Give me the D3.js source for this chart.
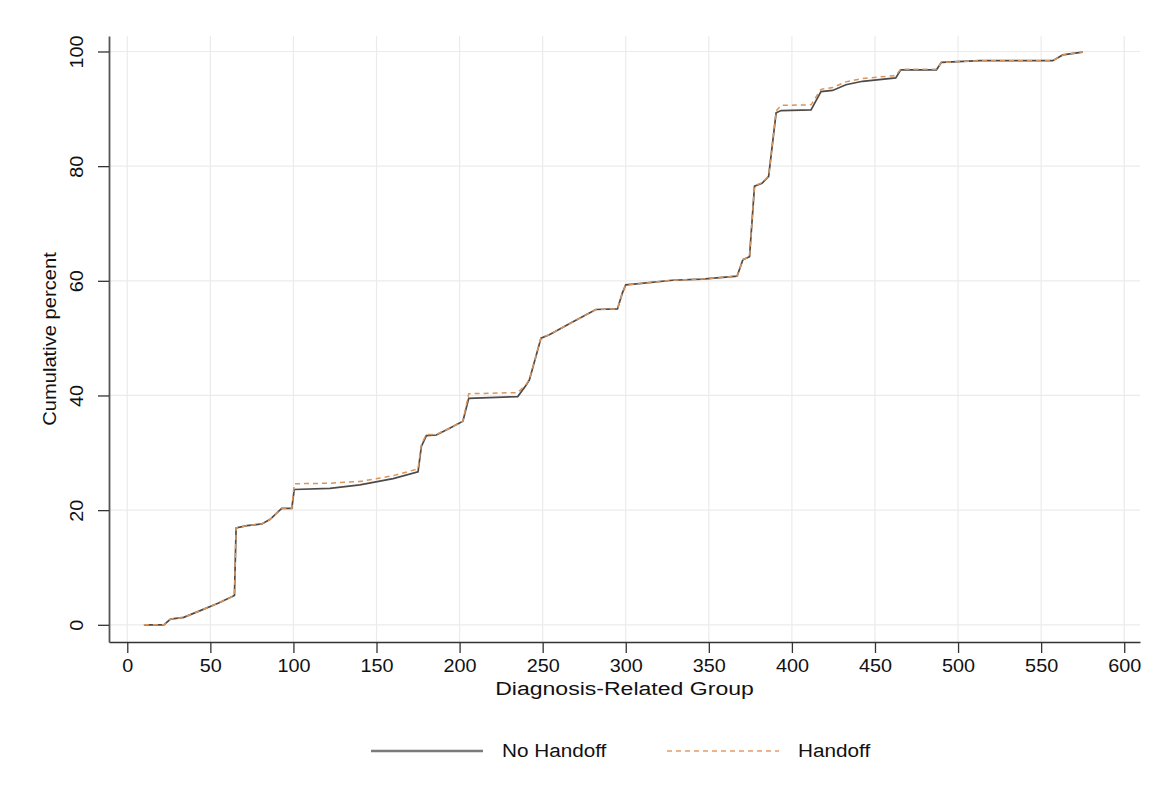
<!DOCTYPE html>
<html>
<head>
<meta charset="utf-8">
<script src="https://cdn.jsdelivr.net/npm/d3@7"></script>
<style>
    body { margin: 0; background: #fff; }
    text { font-family: "Liberation Sans", Arial, Helvetica, sans-serif; fill: #111; }
</style>
</head>
<body>
<main></main>
<script>
// diagnosis-related group (x) and cumulative percent for each group
const drg = [10, 22, 26, 34, 45, 55, 64.5, 65.5, 72, 81,
    86, 91, 93, 99, 100.5, 122, 140, 160, 175, 177,
    180, 186, 194, 202, 205.5, 235, 240, 242, 249, 254,
    268, 282, 295, 298, 300, 308, 328, 346, 367, 370.5,
    374.5, 377.5, 382, 386, 390.5, 393.5, 411.5, 417.5, 424.5, 432.5,
    442.5, 462.5, 465.5, 487, 490, 513, 557, 563, 575];

const noHandoff = [0, 0, 1.0, 1.3, 2.6, 3.8, 5.1, 16.9, 17.3, 17.6,
    18.4, 19.8, 20.3, 20.3, 23.6, 23.8, 24.4, 25.5, 26.7, 31.1,
    33.0, 33.1, 34.3, 35.5, 39.5, 39.8, 41.8, 42.7, 50.0, 50.6,
    52.8, 55.0, 55.1, 57.9, 59.3, 59.5, 60.1, 60.3, 60.8, 63.7,
    64.2, 76.5, 77.0, 78.2, 89.3, 89.7, 89.8, 93.0, 93.2, 94.2,
    94.8, 95.4, 96.8, 96.8, 98.1, 98.4, 98.4, 99.4, 99.9];

const handoff = [0, 0, 1.0, 1.3, 2.6, 3.8, 5.1, 16.9, 17.3, 17.6,
    18.4, 19.8, 20.3, 20.3, 24.6, 24.7, 25.0, 26.0, 27.2, 31.5,
    33.2, 33.2, 34.3, 35.5, 40.3, 40.5, 41.9, 42.8, 50.1, 50.6,
    52.8, 55.0, 55.1, 57.9, 59.3, 59.5, 60.1, 60.3, 60.8, 63.7,
    64.2, 76.6, 77.1, 78.3, 89.6, 90.6, 90.7, 93.4, 93.7, 94.7,
    95.3, 95.8, 96.9, 96.9, 98.1, 98.4, 98.4, 99.4, 99.9];

const xTicks = [0, 50, 100, 150, 200, 250, 300, 350, 400, 450, 500, 550, 600];
const yTicks = [0, 20, 40, 60, 80, 100];
const seriesNames = ["No Handoff", "Handoff"];

const drawChart = () => {

    const outerWidth = 1159,
        outerHeight = 810,
        plot = {left: 109, right: 1140, top: 36, bottom: 642};

    const svg = d3.select("main").append("svg")
        .attr("width", outerWidth)
        .attr("height", outerHeight);

    svg.append("rect")
        .attr("width", outerWidth)
        .attr("height", outerHeight)
        .attr("fill", "#fff");

    const xScale = d3.scaleLinear().domain([-11, 609.5]).range([plot.left, plot.right]);
    const yScale = d3.scaleLinear().domain([-3, 102.7]).range([plot.bottom, plot.top]);

    // stata-ish wide type
    const stretch = (sel, k) => sel.each(function () {
        const w = this.getComputedTextLength();
        d3.select(this).attr("textLength", w * k).attr("lengthAdjust", "spacingAndGlyphs");
    });

    // grid
    svg.append("g")
        .selectAll("line")
        .data(xTicks)
        .enter()
        .append("line")
        .attr("x1", d => xScale(d)).attr("x2", d => xScale(d))
        .attr("y1", plot.top).attr("y2", plot.bottom)
        .attr("stroke", "#ebebeb")
        .attr("stroke-width", 1.2);

    svg.append("g")
        .selectAll("line")
        .data(yTicks)
        .enter()
        .append("line")
        .attr("x1", plot.left).attr("x2", plot.right)
        .attr("y1", d => yScale(d)).attr("y2", d => yScale(d))
        .attr("stroke", "#ebebeb")
        .attr("stroke-width", 1.2);

    const xAxis = d3.axisBottom(xScale).tickValues(xTicks).tickSize(11).tickPadding(6).tickSizeOuter(0);
    const yAxis = d3.axisLeft(yScale).tickValues(yTicks).tickSize(11).tickSizeOuter(0);

    const gx = svg.append("g")
        .attr("transform", "translate(0," + plot.bottom + ")")
        .call(xAxis);
    gx.select(".domain").attr("stroke", "#333").attr("stroke-width", 1.5);
    gx.selectAll(".tick line").attr("stroke", "#333").attr("stroke-width", 1.3);
    gx.selectAll(".tick text")
        .attr("font-size", 18)
        .attr("fill", "#111")
        .call(stretch, 1.1);

    const gy = svg.append("g")
        .attr("transform", "translate(" + plot.left + ",0)")
        .call(yAxis);
    gy.select(".domain").attr("stroke", "#555").attr("stroke-width", 1.8);
    gy.selectAll(".tick line").attr("stroke", "#333").attr("stroke-width", 1.3);
    gy.selectAll(".tick text")
        .attr("x", null)
        .attr("dy", null)
        .attr("text-anchor", "middle")
        .attr("transform", "translate(-26,0) rotate(-90)")
        .attr("font-size", 18)
        .attr("fill", "#111")
        .call(stretch, 1.1);

    // axis titles
    svg.append("text")
        .attr("x", (plot.left + plot.right) / 2)
        .attr("y", 695)
        .attr("text-anchor", "middle")
        .attr("font-size", 18)
        .text("Diagnosis-Related Group")
        .call(stretch, 1.28);

    svg.append("text")
        .attr("transform", "translate(56," + (plot.top + plot.bottom) / 2 + ") rotate(-90)")
        .attr("text-anchor", "middle")
        .attr("font-size", 18)
        .text("Cumulative percent")
        .call(stretch, 1.12);

    const line = d3.line()
        .x((d, i) => xScale(drg[i]))
        .y(d => yScale(d));

    svg.append("path")
        .datum(noHandoff)
        .attr("fill", "none")
        .attr("stroke", "#4e4a48")
        .attr("stroke-width", 1.7)
        .attr("d", line);

    svg.append("path")
        .datum(handoff)
        .attr("fill", "none")
        .attr("stroke", "#d9955c")
        .attr("stroke-width", 1.5)
        .attr("stroke-dasharray", "5,4")
        .attr("d", line);

    // legend
    const legend = svg.append("g").attr("transform", "translate(0,751)");
    const legendItems = [
        {name: seriesNames[0], x: 371, stroke: "#7a7a7a", dash: null, w: 2.5},
        {name: seriesNames[1], x: 667, stroke: "#eab58c", dash: "5,4", w: 2}
    ];
    legendItems.forEach(d => {
        legend.append("line")
            .attr("x1", d.x).attr("x2", d.x + 112)
            .attr("y1", 0).attr("y2", 0)
            .attr("stroke", d.stroke)
            .attr("stroke-width", d.w)
            .attr("stroke-dasharray", d.dash);
        legend.append("text")
            .attr("x", d.x + 131)
            .attr("y", 6)
            .attr("font-size", 18)
            .text(d.name)
            .call(stretch, 1.15);
    });
}

drawChart();
</script>
</body>
</html>
